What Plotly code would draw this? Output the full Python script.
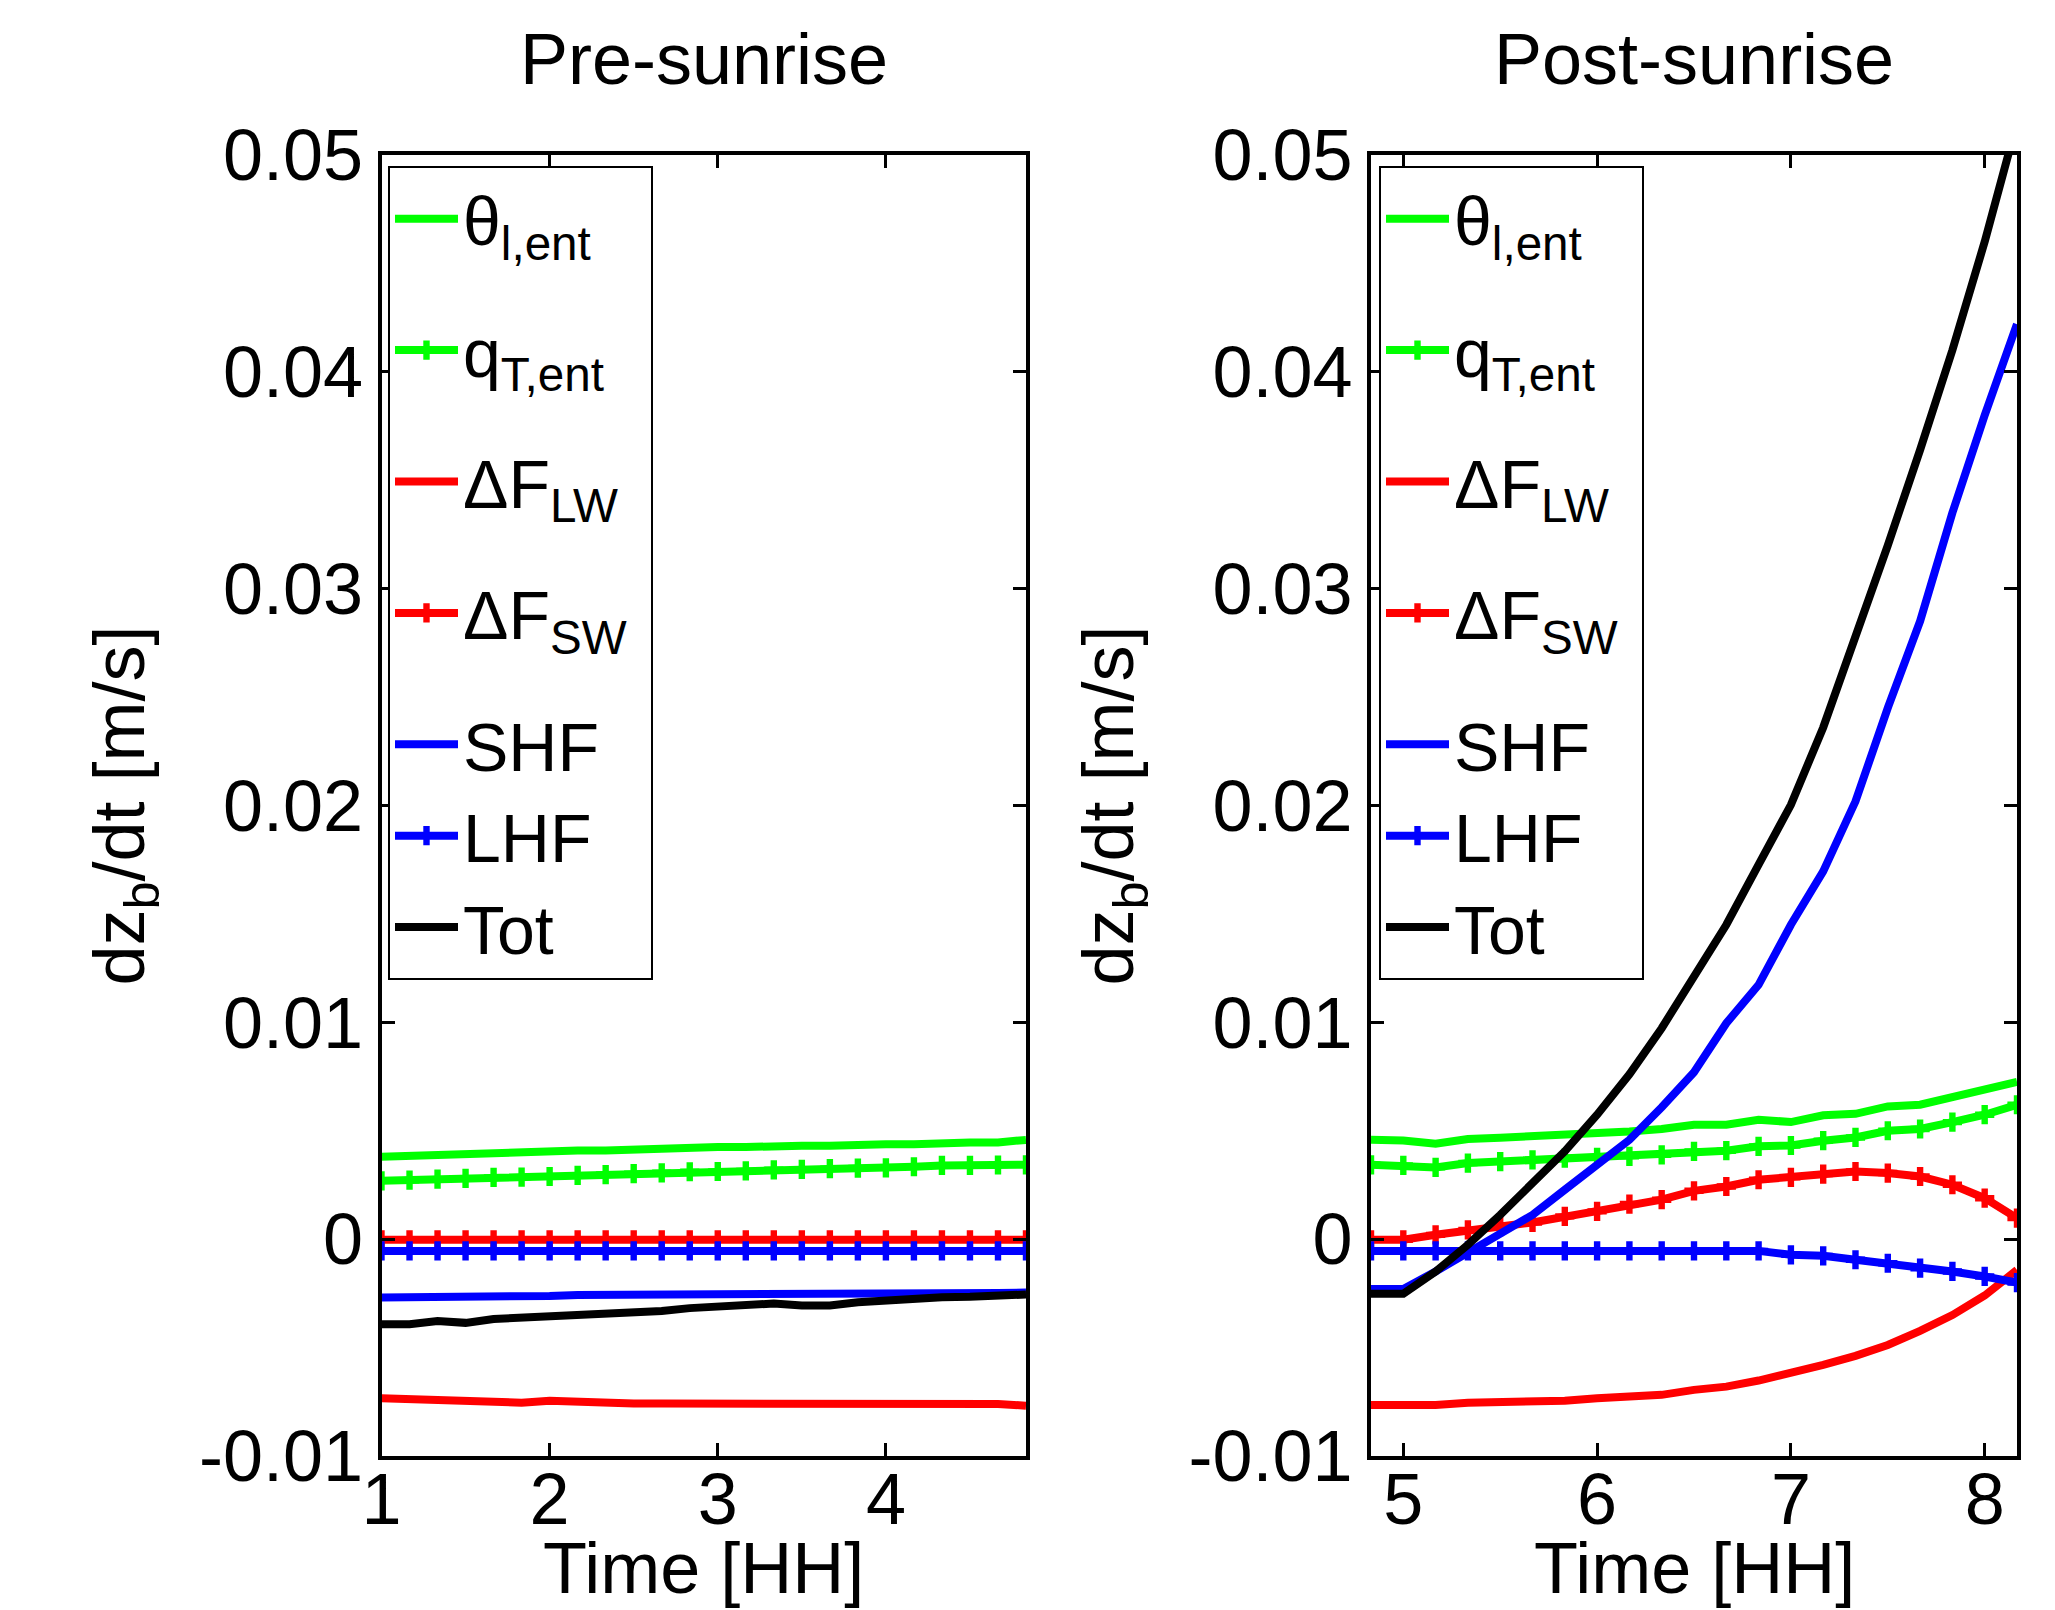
import plotly.graph_objects as go

# ---------------- data ----------------
t_pre = [1.0, 1.1667, 1.3333, 1.5, 1.6667, 1.8333, 2.0, 2.1667, 2.3333, 2.5, 2.6667, 2.8333,
         3.0, 3.1667, 3.3333, 3.5, 3.6667, 3.8333, 4.0, 4.1667, 4.3333, 4.5, 4.6667, 4.8333]
t_post = [4.8333, 5.0, 5.1667, 5.3333, 5.5, 5.6667, 5.8333, 6.0, 6.1667, 6.3333, 6.5,
          6.6667, 6.8333, 7.0, 7.1667, 7.3333, 7.5, 7.6667, 7.8333, 8.0, 8.1667]

pre_theta = [0.00380, 0.00385, 0.00389, 0.00394, 0.00400, 0.00402, 0.00402, 0.00409, 0.00409, 0.00415, 0.00417, 0.00423,
             0.00425, 0.00425, 0.00431, 0.00431, 0.00431, 0.00438, 0.00438, 0.00438, 0.00446, 0.00446, 0.00446, 0.00458]
pre_qT = [0.00269, 0.00272, 0.00277, 0.00280, 0.00285, 0.00286, 0.00289, 0.00294, 0.00298, 0.00302, 0.00306, 0.00311,
          0.00312, 0.00315, 0.00320, 0.00322, 0.00325, 0.00328, 0.00329, 0.00334, 0.00340, 0.00340, 0.00342, 0.00343]
pre_LW = [-0.00734, -0.00737, -0.00746, -0.00746, -0.00754, -0.00754, -0.00745, -0.00751, -0.00751, -0.00758, -0.00758, -0.00758,
          -0.00758, -0.00758, -0.00758, -0.00758, -0.00758, -0.00765, -0.00758, -0.00758, -0.00765, -0.00765, -0.00760, -0.00768]
pre_SW = [-0.00003, -0.00003, -0.00003, -0.00003, -0.00003, -0.00003, -0.00003, -0.00003, -0.00003, -0.00003, -0.00003, -0.00003,
          -0.00003, -0.00003, -0.00003, -0.00003, -0.00003, -0.00003, -0.00003, -0.00003, -0.00003, -0.00003, -0.00003, -0.00003]
pre_SHF = [-0.00269, -0.00269, -0.00262, -0.00262, -0.00262, -0.00262, -0.00262, -0.00257, -0.00257, -0.00257, -0.00257, -0.00257,
           -0.00257, -0.00257, -0.00257, -0.00257, -0.00257, -0.00251, -0.00254, -0.00248, -0.00248, -0.00248, -0.00248, -0.00246]
pre_LHF = [-0.00054, -0.00054, -0.00054, -0.00054, -0.00054, -0.00054, -0.00054, -0.00054, -0.00054, -0.00054, -0.00054, -0.00054,
           -0.00054, -0.00054, -0.00054, -0.00054, -0.00054, -0.00054, -0.00054, -0.00054, -0.00054, -0.00054, -0.00054, -0.00054]
pre_Tot = [-0.00392, -0.00392, -0.00377, -0.00386, -0.00368, -0.00362, -0.00358, -0.00346, -0.00346, -0.00337, -0.00331, -0.00318,
           -0.00312, -0.00312, -0.00297, -0.00306, -0.00306, -0.00291, -0.00282, -0.00275, -0.00268, -0.00266, -0.00262, -0.00255]

post_theta = [0.00458, 0.00455, 0.00440, 0.00462, 0.00468, 0.00474, 0.00489, 0.00489, 0.00497, 0.00508, 0.00528,
              0.00528, 0.00551, 0.00540, 0.00571, 0.00578, 0.00612, 0.00620, 0.00654, 0.00682, 0.00725]
post_qT = [0.00343, 0.00340, 0.00331, 0.00351, 0.00358, 0.00366, 0.00374, 0.00377, 0.00382, 0.00389, 0.00405,
           0.00408, 0.00428, 0.00432, 0.00454, 0.00469, 0.00500, 0.00508, 0.00540, 0.00574, 0.00620]
post_LW = [-0.00765, -0.00765, -0.00765, -0.00754, -0.00754, -0.00749, -0.00745, -0.00734, -0.00726, -0.00718, -0.00695,
           -0.00680, -0.00652, -0.00618, -0.00580, -0.00538, -0.00488, -0.00423, -0.00350, -0.00260, -0.00142]
post_SW = [-0.00003, -0.00003, 0.00020, 0.00043, 0.00058, 0.00077, 0.00105, 0.00128, 0.00162, 0.00182, 0.00223,
           0.00243, 0.00274, 0.00285, 0.00300, 0.00312, 0.00305, 0.00289, 0.00251, 0.00189, 0.00097]
post_SHF = [-0.00230, -0.00230, -0.00149, -0.00065, 0.00023, 0.00112, 0.00228, 0.00343, 0.00458, 0.00608, 0.00770,
            0.00996, 0.01173, 0.01450, 0.01696, 0.02019, 0.02450, 0.02850, 0.03350, 0.03800, 0.04220]
post_LHF = [-0.00054, -0.00054, -0.00054, -0.00054, -0.00054, -0.00054, -0.00054, -0.00054, -0.00054, -0.00054, -0.00054,
            -0.00054, -0.00054, -0.00072, -0.00077, -0.00095, -0.00111, -0.00134, -0.00149, -0.00172, -0.00200]
post_Tot = [-0.00252, -0.00252, -0.00149, -0.00026, 0.00112, 0.00254, 0.00405, 0.00574, 0.00760, 0.00973, 0.01219,
            0.01450, 0.01727, 0.02003, 0.02360, 0.02770, 0.03200, 0.03640, 0.04100, 0.04600, 0.05150]

series_names = ["θ<sub>l,ent</sub>", "q<sub>T,ent</sub>", "ΔF<sub>LW</sub>", "ΔF<sub>SW</sub>\u00a0", "SHF", "LHF", "Tot"]
series_colors = ["#00ff00", "#00ff00", "#ff0000", "#ff0000", "#0000ff", "#0000ff", "#000000"]
series_marked = [False, True, False, True, False, True, False]
series_groups = ["g1", "g2", "g3", "g4", "g5", "g5", "g5"]

y_tickvals = [-0.01, 0.0, 0.01, 0.02, 0.03, 0.04, 0.05]
y_ticktext = ["-0.01", "0", "0.01", "0.02", "0.03", "0.04", "0.05"]
x_pre_ticks = [1, 2, 3, 4]
x_post_ticks = [5, 6, 7, 8]
panel_titles = ["Pre-sunrise", "Post-sunrise"]
x_title = "Time [HH]"
y_title = "dz<sub>b</sub>/dt [m/s]"

pre_data = [pre_theta, pre_qT, pre_LW, pre_SW, pre_SHF, pre_LHF, pre_Tot]
post_data = [post_theta, post_qT, post_LW, post_SW, post_SHF, post_LHF, post_Tot]

FONT = "Liberation Sans, Arial, sans-serif"
FS = 72
W, H = 2055, 1610

fig = go.Figure()

for panel, (tt, data, xa, ya, leg) in enumerate([
        (t_pre, pre_data, "x", "y", "legend"),
        (t_post, post_data, "x2", "y2", "legend2")]):
    for i, ys in enumerate(data):
        mode = "lines+markers" if series_marked[i] else "lines"
        fig.add_trace(go.Scatter(
            x=tt, y=ys, mode=mode, name=series_names[i],
            line=dict(color=series_colors[i], width=8),
            marker=dict(symbol="cross", size=16, color=series_colors[i],
                        line=dict(width=0)),
            xaxis=xa, yaxis=ya, legend=leg,
            legendgroup=series_groups[i] + str(panel),
            showlegend=True,
        ))

ax_common = dict(showline=True, linewidth=4, linecolor="black", mirror="ticks",
                 ticks="inside", ticklen=13, tickwidth=3, tickcolor="black",
                 showgrid=False, zeroline=False, automargin=False,
                 tickfont=dict(family=FONT, size=FS, color="black"))

xdom1 = [373.5 / W, 1018 / W]
xdom2 = [1363 / W, 2009 / W]
ydom = [1 - 1448 / H, 1 - 147 / H]

legend_common = dict(yanchor="top", xanchor="left", y=1 - 158 / H,
                     bgcolor="white", bordercolor="black", borderwidth=2,
                     font=dict(family=FONT, size=68), tracegroupgap=40,
                     itemwidth=63, itemclick=False, itemdoubleclick=False)

fig.update_layout(
    width=W, height=H, autosize=False,
    margin=dict(l=0, r=0, t=0, b=0),
    paper_bgcolor="white", plot_bgcolor="white",
    font=dict(family=FONT, size=FS, color="black"),
    xaxis=dict(ax_common, domain=xdom1, range=[1.0, 4.8333], tickvals=x_pre_ticks,
               anchor="y", ticklabelstandoff=-22),
    yaxis=dict(ax_common, domain=ydom, range=[-0.01, 0.05], tickvals=y_tickvals,
               ticktext=y_ticktext, anchor="x",
               title=dict(text=y_title, standoff=32, font=dict(family=FONT, size=FS))),
    xaxis2=dict(ax_common, domain=xdom2, range=[4.8333, 8.1667], tickvals=x_post_ticks,
                anchor="y2", ticklabelstandoff=-22),
    yaxis2=dict(ax_common, domain=ydom, range=[-0.01, 0.05], tickvals=y_tickvals,
                ticktext=y_ticktext, anchor="x2",
                title=dict(text=y_title, standoff=32, font=dict(family=FONT, size=FS))),
    legend=dict(legend_common, x=380 / W),
    legend2=dict(legend_common, x=1371 / W),
    showlegend=True,
)

for txt, dom in zip(panel_titles, [xdom1, xdom2]):
    xc = (dom[0] + dom[1]) / 2
    fig.add_annotation(text=txt, x=xc, y=1 - 51 / H,
                       xref="paper", yref="paper", xanchor="center", yanchor="middle",
                       showarrow=False, font=dict(family=FONT, size=FS, color="black"))
    fig.add_annotation(text=x_title, x=xc, y=1 - 1560 / H,
                       xref="paper", yref="paper", xanchor="center", yanchor="middle",
                       showarrow=False, font=dict(family=FONT, size=FS, color="black"))

fig.write_html("out.html")
